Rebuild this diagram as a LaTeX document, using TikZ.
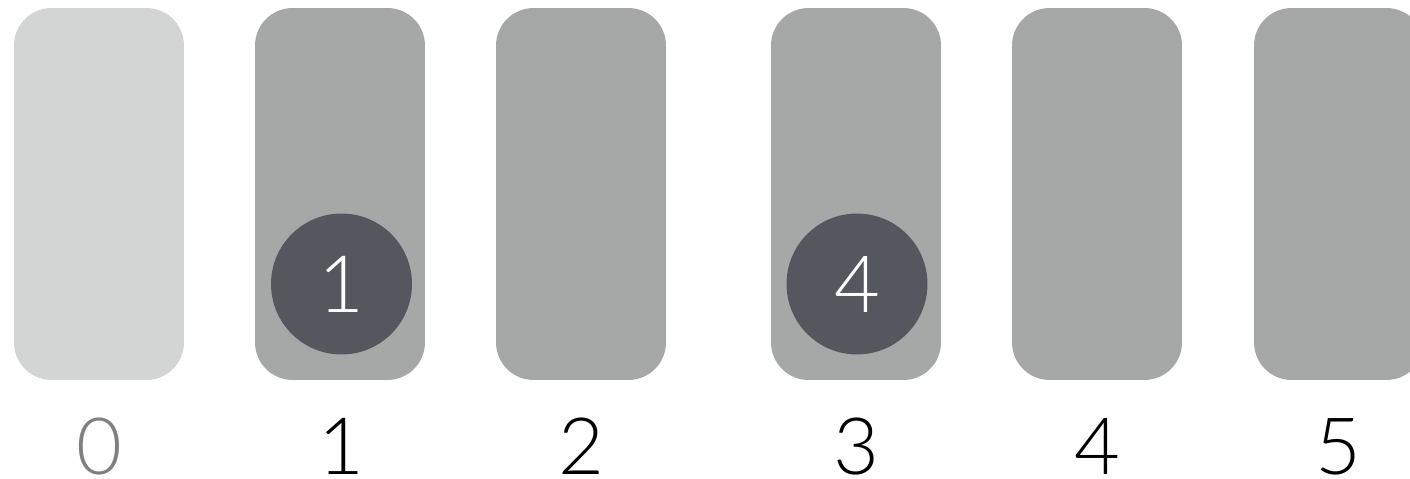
\documentclass[tikz,border=0pt]{standalone}
\usepackage{fontspec}
\IfFontExistsTF{Lato Light}{\setmainfont{Lato Light}}{\setmainfont{Lato}}
\usetikzlibrary{positioning}
\definecolor{slotgray}{HTML}{A5A8A7}
\definecolor{slotlight}{HTML}{D3D5D4}
\definecolor{ballgray}{HTML}{54585E}
\definecolor{idxgray}{HTML}{808080}

\begin{document}
\begin{tikzpicture}[x=0.02cm,y=-0.02cm,
  slot/.style={fill=slotgray,rounded corners=0.75cm,minimum width=3.4cm,minimum height=7.44cm,inner sep=0pt},
  ball/.style={circle,fill=ballgray,minimum size=2.82cm,inner sep=0pt,text=white,font=\fontsize{45}{45}\selectfont},
  idx/.style={font=\fontsize{45}{45}\selectfont,anchor=base,inner sep=0pt}]
\useasboundingbox (0,0) rectangle (1410,479);

% slots
\node[slot,fill=slotlight] (s0) at (99,194) {};
\foreach \i/\x in {1/340,2/581,3/856,4/1097,5/1339}
  \node[slot] (s\i) at (\x,194) {};

% indices
\node[idx,text=idxgray] (l0) at (99,475) {0};
\foreach \i/\x in {1/341,2/581,3/856,4/1097,5/1338}
  \node[idx] (l\i) at (\x,475) {\i};

% balls
\node[ball] (b1) at (341.5,284) {1};
\node[ball] (b4) at (857,284) {4};
\end{tikzpicture}
\end{document}
